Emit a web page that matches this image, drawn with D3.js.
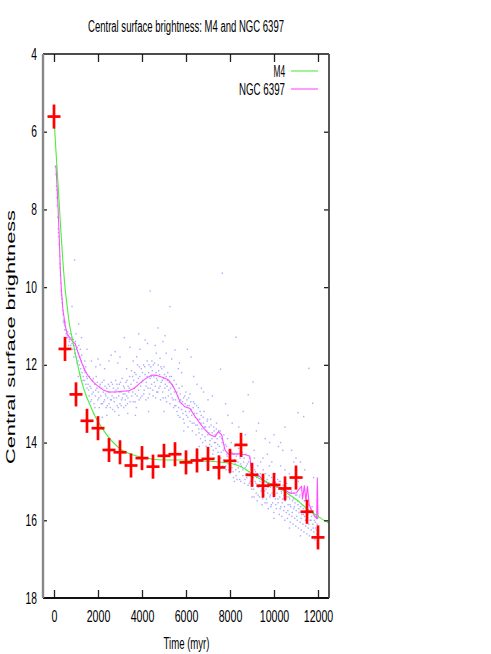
<!DOCTYPE html>
<html><head><meta charset="utf-8">
<script src="https://cdn.jsdelivr.net/npm/d3@7"></script>
<style>
html,body{margin:0;padding:0;background:#fff;}
text{font-family:"Liberation Sans",Arial,Helvetica,sans-serif;fill:#000;}
</style></head>
<body><svg id="c" width="491" height="654"></svg>
<script>
// ---- data ----
const title = "Central surface brightness: M4 and NGC 6397";
const xLabel = "Time (myr)";
const yLabel = "Central surface brightness";
const xTicks = [0, 2000, 4000, 6000, 8000, 10000, 12000];
const yTicks = [4, 6, 8, 10, 12, 14, 16, 18];
const seriesNames = ["M4", "NGC 6397"];

// M4 observations (red crosses)
const m4Time = [0,500,1000,1500,2000,2500,3000,3500,4000,4500,5000,5500,6000,6500,7000,7500,8000,8500,9000,9500,10000,10500,11000,11500,12000];
const m4Value = [5.61,11.59,12.76,13.44,13.63,14.19,14.25,14.59,14.40,14.62,14.34,14.30,14.51,14.46,14.42,14.64,14.47,14.06,14.83,15.11,15.09,15.18,14.90,15.78,16.44];
const m4Err = [0.31,0.31,0.31,0.31,0.31,0.31,0.31,0.31,0.31,0.31,0.31,0.31,0.31,0.31,0.31,0.31,0.31,0.31,0.31,0.31,0.31,0.31,0.31,0.31,0.31];

// M4 model curve (green)
const m4ModelTime = [0,100,200,300,400,512,600,694,845,1000,1116,1250,1420,1650,1873,2100,2400,2750,3080,3500,4000,4500,5000,5730,6500,7000,7500,8000,8500,9000,9200,9700,10260,10800,11200,11550,12000,12500];
const m4ModelValue = [5.65,6.6,7.5,8.45,9.3,10.07,10.5,10.93,11.36,11.8,12.1,12.42,12.73,13.05,13.33,13.55,13.8,14.03,14.19,14.3,14.38,14.43,14.45,14.45,14.47,14.48,14.5,14.53,14.62,14.8,14.88,15.02,15.18,15.38,15.55,15.73,15.9,16.08];

// NGC 6397 smoothed curve (magenta)
const ngcLineTime = [90,180,240,290,340,400,512,600,739,850,966,1100,1270,1420,1570,1800,2020,2250,2480,2800,3100,3380,3650,3910,4150,4440,4650,4820,5000,5200,5380,5500,5620,5730,5950,6180,6410,6630,6860,7090,7320,7470,7620,7770,7920,8200,8450,8750,8900,8980,9150,9360,9500,9810,10040,10190,10490,10720,10870,11020,11170,11250,11300,11380,11450,11520,11600,11700,11850,11940,11970,12000];
const ngcLineValue = [6.86,7.9,8.75,9.6,10.1,10.55,11.0,11.2,11.32,11.4,11.46,11.7,11.96,12.15,12.3,12.45,12.56,12.65,12.7,12.7,12.68,12.67,12.6,12.47,12.36,12.26,12.27,12.3,12.33,12.39,12.52,12.65,12.8,12.95,13.08,13.12,13.33,13.5,13.67,13.8,13.85,13.72,13.8,14.19,14.29,14.29,14.29,14.32,14.35,14.79,14.82,14.88,14.96,15.09,15.0,15.15,15.22,15.3,15.3,15.29,15.18,15.13,15.45,15.1,15.5,15.12,15.6,15.73,15.9,15.95,14.9,15.95];

// NGC 6397 individual measurements (blue dots), [time, value]
const ngcScatter = [
[60,6.9],[90,7.1],[110,7.4],[130,7.7],[150,7.9],[170,8.2],[190,8.5],[210,8.7],[230,8.9],[250,9.2],[270,9.4],[290,9.7],[310,9.9],[330,10.1],[350,10.3],[370,10.4],[390,10.6],[410,10.7],[440,10.85],[470,10.95],[500,11.0],[530,11.1],[560,11.2],[600,11.25],[640,11.3],
[120,7.5],[200,8.6],[280,9.5],[340,10.2],[420,10.9],[480,11.1],[520,10.9],[580,11.3],[620,11.15],[700,11.35],[660,11.5],[935,9.3],[820,10.5],[1120,10.95],
[700,11.4],[730,11.2],[760,11.5],[790,11.3],[820,11.45],[850,11.6],[880,11.35],[910,11.5],[940,11.7],[970,11.4],[1000,11.6],[1030,11.8],[1060,11.55],[1090,11.9],[1120,11.7],[1150,12.0],[1180,11.8],[1210,12.1],[1240,11.9],[1270,12.2],[1300,12.0],[1330,12.3],[1360,12.1],[1390,12.4],[1420,12.2],[1450,12.5],[1480,12.3],[1500,12.6],[1000,11.2],[1200,11.6],[1400,11.9],[900,11.8],[1100,12.3],[1300,12.5],
[1550,12.5],[1600,12.8],[1620,12.3],[1680,12.6],[1700,12.9],[1750,12.4],[1780,12.7],[1820,13.0],[1850,12.5],[1880,12.8],[1920,12.3],[1950,12.6],[1990,12.9],[2020,12.7],[2060,13.1],[2100,12.5],[2130,12.8],[2170,12.6],[2200,13.0],[2240,12.7],[2270,12.4],[2300,12.9],[2340,12.75],[2370,13.1],[2400,12.6],[2440,12.85],[2470,12.5],[2500,13.0],[2540,12.7],[2570,12.9],[2600,12.45],[2640,12.8],[2670,13.15],[2700,12.6],[2740,12.95],[2770,12.7],[2800,12.4],[2840,12.85],[2870,13.05],[2900,12.6],[2940,12.8],[2970,12.5],[3000,13.0],[3040,12.7],[3070,12.9],[3100,12.35],[3140,12.75],[3170,13.1],[3200,12.6],[3240,12.9],[3270,12.45],[3300,12.8],[3340,13.0],[3370,12.55],[3400,12.7],[3440,12.3],
[1700,11.9],[2100,12.0],[2500,11.9],[2780,11.66],[3000,11.8],[3200,11.3],[3300,12.1],[2300,12.1],[1900,12.05],[1800,13.25],[2400,13.3],[2950,13.3],[3350,13.25],
[3500,12.5],[3530,12.8],[3570,12.3],[3600,12.95],[3640,12.6],[3670,12.2],[3700,12.75],[3740,13.1],[3770,12.45],[3800,12.0],[3840,12.65],[3870,12.9],[3900,12.3],[3940,12.55],[3970,12.1],[4000,12.8],[4040,12.4],[4070,12.0],[4100,12.65],[4140,12.25],[4170,12.9],[4200,12.45],[4240,11.9],[4270,12.6],[4300,12.2],[4340,12.75],[4370,12.35],[4400,12.05],[4440,12.5],[4470,12.15],[4500,12.8],[4540,12.3],[4570,11.95],[4600,12.55],[4640,12.2],[4670,12.7],[4700,12.4],[4740,12.0],[4770,12.6],[4800,12.25],[4840,12.9],[4870,12.45],[4900,12.1],[4940,12.7],[4970,12.35],[5000,12.05],[5040,12.6],[5070,12.85],[5100,12.3],[5140,12.55],[5170,12.2],[5200,12.8],[5240,12.45],[5270,13.0],[5300,12.6],[5340,12.3],[5370,12.85],[5400,12.55],[5440,13.1],[5470,12.7],
[3760,11.79],[4140,11.36],[4370,10.1],[4730,11.05],[4820,11.83],[5270,10.5],[5500,11.62],[3900,11.6],[4600,11.5],[5100,11.7],[3600,11.9],[4950,11.4],
[5520,12.9],[5560,12.5],[5590,13.2],[5620,12.8],[5660,13.1],[5690,12.6],[5720,13.35],[5760,12.9],[5790,13.0],[5820,12.55],[5860,13.25],[5890,12.85],[5920,13.5],[5960,13.0],[5990,12.7],[6020,13.3],[6060,13.05],[6090,13.6],[6120,12.85],[6160,13.2],[6190,13.45],[6220,12.95],[6260,13.3],[6290,13.7],[6320,13.1],[6360,13.5],[6390,13.0],[6420,13.35],[6460,13.8],[6490,13.25],[6520,13.55],[6560,13.1],[6590,13.75],[6620,13.4],[6660,13.9],[6690,13.3],[6720,13.65],[6760,14.0],[6790,13.5],[6820,13.2],[6860,13.85],[6890,13.6],[6920,14.1],[6960,13.45],[6990,13.8],[7020,14.2],[7060,13.6],[7090,13.95],[7120,13.4],[7160,14.1],[7190,13.75],[7220,14.3],[7260,13.6],[7290,14.0],[7320,13.8],[7360,14.15],[7390,13.5],[7420,13.9],[7460,14.25],[7490,13.7],
[6060,11.6],[6230,11.8],[5800,12.2],[6500,12.5],[7000,12.9],[7570,12.11],[7650,9.64],[6800,12.7],[5650,12.1],
[7520,14.1],[7560,13.7],[7590,14.4],[7620,13.9],[7660,14.6],[7690,14.2],[7720,13.8],[7760,14.5],[7790,14.05],[7820,14.7],[7860,14.3],[7890,13.9],[7920,14.55],[7960,14.2],[7990,14.8],[8020,14.4],[8060,14.0],[8090,14.65],[8120,14.3],[8160,14.9],[8190,14.45],[8220,14.1],[8260,14.7],[8290,14.35],[8320,14.95],[8360,14.5],[8390,14.15],[8420,14.75],[8460,14.4],[8490,15.0],[8520,14.6],[8560,14.25],[8590,14.85],[8620,14.5],[8660,15.05],[8690,14.65],[8720,14.3],[8760,14.9],[8790,14.55],[8820,15.1],[8860,14.75],[8890,14.4],[8920,15.0],[8960,14.7],[8990,15.2],
[8270,11.29],[8830,12.77],[9050,12.44],[7900,13.3],[8400,13.6],[8700,13.8],[8100,13.5],
[9020,14.6],[9040,15.1],[9070,14.9],[9090,15.4],[9110,14.4],[9140,15.0],[9160,14.75],[9190,15.3],[9210,14.9],[9240,15.5],[9260,14.6],[9290,15.15],[9310,14.85],[9340,15.4],[9360,15.0],[9390,14.5],[9410,15.25],[9440,14.95],[9460,15.6],[9490,15.1],[9510,14.7],[9540,15.35],[9560,15.0],[9590,15.55],[9610,14.8],[9640,15.2],[9660,15.45],[9690,14.95],[9710,15.3],[9740,15.7],[9760,15.05],[9790,14.6],[9810,15.4],[9840,15.15],[9860,15.65],[9890,14.9],[9910,15.3],[9940,15.55],[9960,15.0],[9990,15.8],
[10010,15.2],[10040,14.8],[10060,15.45],[10090,15.1],[10110,15.7],[10140,15.3],[10160,14.95],[10190,15.55],[10210,15.2],[10240,15.85],[10260,15.4],[10290,15.0],[10310,15.65],[10340,15.3],[10360,15.9],[10390,15.45],[10410,15.1],[10440,15.75],[10460,15.35],[10490,16.0],[10510,15.5],[10540,15.15],[10560,15.8],[10590,15.4],[10610,15.95],[10640,15.6],[10660,15.2],[10690,15.85],[10710,15.45],[10740,16.05],[10760,15.65],[10790,15.25],[10810,15.9],[10840,15.5],[10860,16.1],[10890,15.7],[10910,15.3],[10940,15.95],[10960,15.55],[10990,16.15],
[11010,15.75],[11040,15.35],[11060,16.0],[11090,15.6],[11110,16.2],[11140,15.8],[11160,15.4],[11190,16.05],[11210,15.65],[11240,16.25],[11260,15.85],[11290,15.45],[11310,16.1],[11340,15.7],[11360,16.3],[11390,15.9],[11410,15.5],[11440,16.15],[11460,15.75],[11490,16.35],[11510,15.95],[11540,15.6],[11560,16.2],[11590,15.8],[11610,16.4],[11640,16.0],[11660,15.7],[11690,16.25],[11710,15.9],[11740,16.45],[11760,16.1],[11790,15.8],[11810,16.3],[11840,16.0],[11860,16.5],[11890,16.2],[11910,15.9],[11940,16.35],[11960,16.1],
[9100,14.2],[9500,14.4],[9900,14.5],[10300,14.6],[10700,14.8],[11100,15.0],[11500,15.2],[9700,14.3],[10500,14.7],[11300,14.9],
[11580,12.09],[11760,12.99],[10800,14.2],[11000,14.4],[10200,14.1],[11200,14.5],[11090,13.23],[11350,13.33],[10500,13.6],[10000,13.8],[9600,13.9],[9300,13.5],[10300,14.0],
[1040,11.95],[1130,11.5],[1170,12.25],[1260,11.75],[1320,12.4],[1380,12.15],[1440,12.05],[1510,12.35],[1570,12.65],[1640,12.55],[1660,12.95],[1730,12.75],[1790,12.35],[1860,13.1],[1900,12.65],[1970,12.45],[2040,12.85],[2080,12.55],[2150,13.0],[2190,12.45],[2260,12.95],[2320,12.55],[2360,12.8],[2420,13.05],[2460,12.7],[2520,12.55],[2560,13.1],[2610,12.9],[2660,12.5],[2720,12.85],[2760,13.2],[2820,12.65],[2860,12.5],[2920,13.1],[2960,12.7],[3020,12.45],[3060,13.05],[3110,12.85],[3160,12.55],[3220,12.75],[3260,13.05],[3320,12.4],[3360,12.85],[3420,12.6],[3460,12.95],
[3520,12.15],[3580,12.7],[3620,12.4],[3690,12.95],[3730,12.25],[3780,12.8],[3830,12.35],[3880,12.05],[3930,12.85],[3980,12.45],[4020,12.2],[4080,12.75],[4120,12.05],[4180,12.55],[4230,12.3],[4280,12.85],[4320,12.0],[4380,12.6],[4420,12.3],[4480,12.65],[4520,12.0],[4560,12.45],[4620,12.85],[4660,12.35],[4720,12.7],[4760,12.15],[4820,12.55],[4860,12.05],[4920,12.4],[4960,12.85],[5020,12.25],[5060,12.5],[5120,12.95],[5160,12.4],[5220,12.65],[5260,12.3],[5320,12.75],[5360,12.5],[5420,12.9],[5460,12.4],[5490,13.05],
[5540,13.05],[5600,12.7],[5640,13.3],[5700,12.95],[5740,12.75],[5800,13.15],[5840,12.95],[5880,13.4],[5940,12.8],[5980,13.2],[6040,12.9],[6080,13.35],[6140,13.05],[6180,12.75],[6240,13.15],[6280,13.5],[6340,12.95],[6380,13.25],[6440,13.55],[6480,13.05],[6540,13.4],[6580,13.65],[6640,13.2],[6680,13.5],[6740,13.8],[6780,13.35],[6840,13.6],[6880,13.95],[6940,13.7],[6980,13.4],[7040,13.75],[7080,14.05],[7140,13.55],[7180,13.9],[7240,14.2],[7280,13.7],[7340,14.0],[7380,13.65],[7440,14.05],[7480,14.35],
[7540,13.85],[7600,14.25],[7640,14.0],[7700,14.45],[7740,14.15],[7800,14.6],[7840,14.1],[7880,14.35],[7940,14.7],[7980,14.35],[8040,14.6],[8080,14.25],[8140,14.75],[8180,14.3],[8240,14.55],[8280,14.85],[8340,14.3],[8380,14.65],[8440,14.95],[8480,14.55],[8540,14.35],[8580,14.7],[8640,14.4],[8680,14.95],[8740,14.6],[8780,14.8],[8840,14.5],[8880,15.05],[8940,14.85],[8980,14.55],
[9030,14.85],[9080,15.2],[9120,14.7],[9180,15.05],[9230,14.8],[9280,15.35],[9330,15.1],[9380,14.8],[9430,15.2],[9480,15.45],[9530,14.9],[9580,15.25],[9630,15.0],[9680,15.55],[9730,15.15],[9780,14.85],[9830,15.35],[9880,15.6],[9930,15.1],[9980,15.4],[10030,15.05],[10080,15.6],[10130,15.15],[10180,15.45],[10230,15.0],[10280,15.7],[10330,15.25],[10380,15.55],[10430,15.2],[10480,15.65],[10530,15.35],[10580,15.05],[10630,15.75],[10680,15.4],[10730,15.6],[10780,15.3],[10830,15.8],[10880,15.45],[10930,15.65],[10980,15.35],[11030,15.9],[11080,15.5],[11130,15.7],[11180,15.35],[11230,15.95],[11280,15.6],[11330,15.85],[11380,15.5],[11430,16.0],[11480,15.65],[11530,15.85],[11580,16.1],[11630,15.75],[11680,16.0],[11730,15.65],[11780,16.2],[11830,15.85],[11880,16.05],[11930,16.25],[11980,15.95],
[1500,11.6],[2000,11.85],[2600,11.75],[3450,11.55],[3850,11.2],[4250,11.45],[4650,11.7],[5050,11.25],[5350,11.85],[5700,11.95],[6350,12.3],[6700,12.6],[7200,12.8],[7800,13.0],[8600,13.2],[9200,13.7],[9800,14.0],[10400,14.2],[10900,14.5],[11400,14.7],[11800,14.9],[2900,11.95],[1250,11.3],[4450,11.9],
[2200,13.35],[3700,13.3],[4300,13.2],[5000,13.2],[5900,13.7],[6600,14.1],[7300,14.4],[8200,15.0],[9000,15.4],[10000,15.95],[10700,16.2],[11200,16.4]
];

// ---- chart ----
const svg = d3.select("#c");
const pL = 43, pR = 329, pT = 54, pB = 598;
const x = d3.scaleLinear().domain([-500, 12500]).range([pL, pR]);
const y = d3.scaleLinear().domain([4, 18]).range([pT, pB]);

function squeeze(sel, perChar) {
  sel.each(function () {
    const t = d3.select(this);
    t.attr("textLength", t.text().length * perChar).attr("lengthAdjust", "spacingAndGlyphs");
  });
}

// scatter
svg.append("g").selectAll("rect").data(ngcScatter).join("rect")
  .attr("x", d => x(d[0]) - 0.7).attr("y", d => y(d[1]) - 0.7)
  .attr("width", 1.4).attr("height", 1.4)
  .attr("fill", "#7474ff").attr("opacity", 0.6);

// lines
const ngcLine = ngcLineTime.map((t, i) => [t, ngcLineValue[i]]);
const m4Model = m4ModelTime.map((t, i) => [t, m4ModelValue[i]]);
svg.append("path").datum(ngcLine)
  .attr("d", d3.line().x(d => x(d[0])).y(d => y(d[1])))
  .attr("fill", "none").attr("stroke", "#ff4dff").attr("stroke-width", 1.1);

svg.append("defs").append("clipPath").attr("id", "clip")
  .append("rect").attr("x", pL).attr("y", pT).attr("width", pR - pL).attr("height", pB - pT);
svg.append("path").datum(m4Model).attr("clip-path", "url(#clip)")
  .attr("d", d3.line().curve(d3.curveMonotoneX).x(d => x(d[0])).y(d => y(d[1])))
  .attr("fill", "none").attr("stroke", "#4ded3d").attr("stroke-width", 1.1);

// red crosses
const crossHalf = 6.5;
const m4 = m4Time.map((t, i) => ({t, v: m4Value[i], e: m4Err[i]}));
const cg = svg.append("g").attr("stroke", "#ff0000").attr("stroke-width", 2.7);
cg.selectAll("line.v").data(m4).join("line").attr("class", "v")
  .attr("x1", d => x(d.t)).attr("x2", d => x(d.t))
  .attr("y1", d => y(d.v - d.e)).attr("y2", d => y(d.v + d.e));
cg.selectAll("line.h").data(m4).join("line").attr("class", "h")
  .attr("x1", d => x(d.t) - crossHalf).attr("x2", d => x(d.t) + crossHalf)
  .attr("y1", d => y(d.v)).attr("y2", d => y(d.v));

// axes ticks
const ax = svg.append("g");
const gb = ax.append("g").attr("transform", `translate(0,${pB})`)
  .call(d3.axisBottom(x).tickValues(xTicks).tickFormat(d3.format("d")).tickSizeInner(-8).tickSizeOuter(0).tickPadding(13));
const gt = ax.append("g").attr("transform", `translate(0,${pT})`)
  .call(d3.axisTop(x).tickValues(xTicks).tickSizeInner(-8).tickSizeOuter(0).tickFormat(""));
const gl = ax.append("g").attr("transform", `translate(${pL},0)`)
  .call(d3.axisLeft(y).tickValues(yTicks).tickFormat(d3.format("d")).tickSizeInner(-4).tickSizeOuter(0).tickPadding(6));
const gr = ax.append("g").attr("transform", `translate(${pR},0)`)
  .call(d3.axisRight(y).tickValues(yTicks).tickSizeInner(-5).tickSizeOuter(0).tickFormat(""));
ax.selectAll(".domain").remove();
ax.selectAll(".tick line").attr("stroke", "#222").attr("stroke-width", 1.3);
ax.selectAll("text").attr("font-size", 16).attr("font-family", "Liberation Sans, Arial, sans-serif").attr("fill", "#000");
gl.selectAll(".tick").filter(d => d === 4 || d === 18).select("line").remove();
gr.selectAll(".tick").filter(d => d === 4 || d === 18).select("line").remove();
squeeze(gb.selectAll("text"), 5.9);
squeeze(gl.selectAll("text"), 5.7);

// frame
svg.append("line").attr("x1", pL).attr("x2", pR).attr("y1", pT).attr("y2", pT).attr("stroke", "#111").attr("stroke-width", 1.6);
svg.append("line").attr("x1", pL).attr("x2", pR).attr("y1", pB).attr("y2", pB).attr("stroke", "#111").attr("stroke-width", 1.8);
svg.append("line").attr("x1", pR).attr("x2", pR).attr("y1", pT).attr("y2", pB).attr("stroke", "#444").attr("stroke-width", 1.8);
svg.append("line").attr("x1", pL).attr("x2", pL).attr("y1", pT).attr("y2", pB).attr("stroke", "#888").attr("stroke-width", 2.4);

// title
svg.append("text").attr("x", 186).attr("y", 32).attr("text-anchor", "middle")
  .attr("font-size", 16).text(title).call(s => s.attr("textLength", 196).attr("lengthAdjust", "spacingAndGlyphs"));

// x label
svg.append("text").attr("x", 186.5).attr("y", 649).attr("text-anchor", "middle")
  .attr("font-size", 16).text(xLabel).call(s => s.attr("textLength", 46).attr("lengthAdjust", "spacingAndGlyphs"));

// y label
svg.append("text").attr("transform", "translate(15,337) scale(0.68,1) rotate(-90)")
  .attr("text-anchor", "middle").attr("font-size", 19).text(yLabel)
  .call(s => s.attr("textLength", 254).attr("lengthAdjust", "spacingAndGlyphs"));

// legend
const legColors = ["#4ded3d", "#ff4dff"];
const legY = [71, 89];
const lg = svg.append("g");
seriesNames.forEach((n, i) => {
  lg.append("text").attr("x", 285).attr("y", legY[i] + 5.5).attr("text-anchor", "end")
    .attr("font-size", 16).text(n)
    .call(s => s.attr("textLength", n.length * 5.75).attr("lengthAdjust", "spacingAndGlyphs"));
  lg.append("line").attr("x1", 291).attr("x2", 318).attr("y1", legY[i]).attr("y2", legY[i])
    .attr("stroke", legColors[i]).attr("stroke-width", 1.1);
});
</script></body></html>
